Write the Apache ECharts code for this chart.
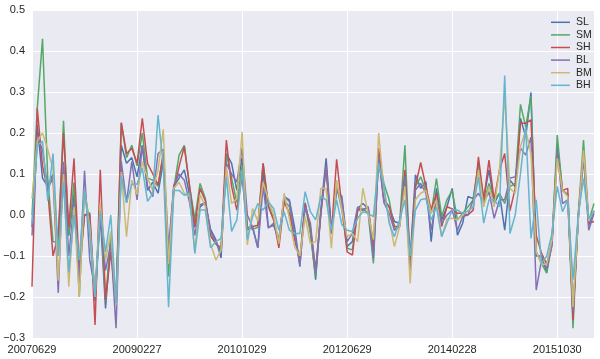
<!DOCTYPE html>
<html>
<head>
<meta charset="utf-8">
<script src="https://cdn.jsdelivr.net/npm/echarts@6/dist/echarts.min.js"></script>
<style>
html,body{margin:0;padding:0;background:#fff;}
#chart{width:600px;height:359px;}
</style>
</head>
<body>
<div id="chart"></div>
<script>
// Tick labels shown on the x axis (every 20th month)
const tickLabels = ['20070629','20090227','20101029','20120629','20140228','20151030'];
const tickStep = 20;

// Monthly categories 2007-06 .. 2016-05
const categories = [];
for (let k = 0; k < 108; k++) {
  const m = 5 + k;
  const y = 2007 + Math.floor(m / 12);
  const mm = (m % 12) + 1;
  categories.push(y + '-' + (mm < 10 ? '0' + mm : mm));
}

const seriesNames = ['SL','SM','SH','BL','BM','BH'];

const SL = [-0.03,0.22,0.09,0.07,0.10,-0.10,0.12,-0.05,0.05,-0.15,
0.00,0.005,-0.21,0.00,-0.228,-0.06,-0.22,0.17,0.126,0.14,
0.093,0.17,0.06,0.08,0.053,0.13,-0.10,0.07,0.09,0.11,
0.05,-0.03,0.02,0.03,-0.035,-0.06,-0.105,0.15,0.126,0.06,
0.14,-0.03,-0.03,-0.08,0.11,-0.03,-0.025,-0.06,0.045,0.037,
-0.03,-0.126,0.03,-0.037,-0.158,0.012,0.138,-0.037,0.06,0.045,
-0.077,-0.065,0.016,0.028,0.016,-0.093,0.142,0.037,0.02,-0.016,
-0.02,0.093,-0.11,0.098,0.065,0.081,-0.065,0.065,-0.012,0.02,
0.065,-0.049,-0.02,0.045,0.04,0.126,0.04,0.11,0.028,0.053,
-0.037,0.085,0.069,0.236,0.19,0.299,-0.10,-0.10,-0.14,-0.06,
0.17,0.06,0.05,-0.24,-0.01,0.15,-0.025,0.01];

const SM = [0.00,0.26,0.43,0.09,-0.065,-0.065,0.23,-0.05,0.08,-0.20,
0.06,-0.02,-0.20,0.02,-0.21,-0.05,-0.21,0.225,0.14,0.17,
0.12,0.20,0.09,0.085,0.07,0.15,-0.15,0.065,0.146,0.17,
0.07,-0.01,0.077,0.04,-0.05,-0.07,-0.09,0.15,0.09,0.03,
0.12,-0.03,-0.035,-0.03,0.126,0.025,-0.01,-0.065,0.037,0.02,
-0.053,-0.11,0.025,-0.045,-0.15,0.004,0.114,-0.045,0.069,0.012,
-0.081,-0.085,0.012,0.016,0.004,-0.118,0.15,0.077,0.037,-0.037,
-0.02,0.17,-0.126,0.069,0.093,0.06,0.004,0.089,-0.004,0.037,
0.06,-0.012,0.004,0.02,0.037,0.118,0.03,0.077,0.037,0.053,
0.028,0.069,0.077,0.27,0.215,0.29,-0.09,-0.118,-0.142,-0.07,
0.195,0.06,0.05,-0.276,0.0,0.183,-0.015,0.028];

const SH = [-0.175,0.26,0.12,0.06,-0.10,-0.05,0.20,-0.03,0.138,-0.135,
0.00,0.00,-0.268,0.11,-0.207,-0.09,-0.22,0.225,0.15,0.163,
0.126,0.236,0.126,0.10,0.073,0.15,-0.118,0.06,0.118,0.167,
0.07,-0.027,0.065,0.035,-0.05,-0.07,-0.08,0.183,0.07,0.012,
0.094,-0.037,-0.028,-0.025,0.126,0.02,-0.012,-0.08,0.032,0.004,
-0.06,-0.11,0.028,-0.03,-0.134,0.004,0.122,-0.045,0.136,0.02,
-0.09,-0.098,0.012,0.012,0.02,-0.077,0.163,0.037,0.02,-0.028,
-0.028,0.11,-0.11,0.069,0.128,0.069,0.012,0.053,-0.028,0.02,
0.015,0.004,0.004,0.00,0.012,0.142,0.037,0.134,0.037,0.11,
0.15,0.01,0.065,0.224,0.224,0.232,-0.05,-0.093,-0.12,-0.065,
0.142,0.06,0.065,-0.256,0.0,0.15,-0.02,-0.016];

const BL = [-0.05,0.185,0.16,0.065,0.09,-0.19,0.13,-0.10,0.03,-0.16,
0.108,-0.11,-0.18,0.00,-0.135,-0.07,-0.276,0.13,0.03,0.13,
0.037,0.17,0.07,0.045,0.15,0.16,-0.08,0.073,0.10,0.085,
0.03,-0.05,0.025,0.03,-0.04,-0.065,-0.09,0.126,0.10,0.08,
0.163,0.00,-0.03,-0.08,0.07,-0.032,-0.02,-0.065,0.045,0.033,
-0.045,-0.122,0.02,-0.02,-0.142,0.012,0.118,-0.045,0.06,0.037,
-0.065,-0.045,0.02,0.012,0.02,-0.106,0.142,0.03,0.004,-0.037,
-0.028,0.093,-0.142,0.061,0.077,0.053,-0.037,0.037,-0.02,0.0,
0.012,-0.037,-0.004,0.00,0.037,0.053,0.03,0.057,-0.008,0.037,
0.037,0.09,0.093,0.163,0.146,0.19,-0.183,-0.11,-0.13,-0.075,
0.158,0.028,0.037,-0.235,-0.01,0.14,-0.037,0.004];

const BM = [0.04,0.18,0.20,0.16,0.11,-0.16,0.10,-0.175,0.02,-0.20,
0.06,-0.03,-0.20,0.03,-0.11,-0.04,-0.22,0.105,-0.053,0.085,
0.05,0.13,0.09,0.06,0.11,0.209,-0.12,0.065,0.08,0.053,
0.045,-0.09,0.05,0.02,-0.07,-0.11,-0.085,0.118,0.028,0.04,
0.203,-0.073,0.016,-0.015,0.08,0.037,0.00,-0.07,0.053,-0.008,
-0.077,-0.10,-0.004,-0.07,-0.065,0.065,0.065,-0.081,0.085,0.012,
-0.053,-0.045,-0.065,0.065,0.004,-0.06,0.20,0.06,-0.012,-0.077,
-0.028,0.07,-0.167,0.037,0.053,0.06,0.004,0.037,-0.053,-0.01,
-0.008,-0.012,0.00,0.01,0.02,0.11,0.02,0.069,0.02,0.11,
0.29,0.065,0.053,0.167,0.207,0.15,-0.09,-0.12,-0.12,-0.06,
0.138,0.06,0.045,-0.224,-0.01,0.158,-0.015,0.012];

const BH = [-0.02,0.17,0.18,0.035,0.15,-0.10,0.08,-0.14,0.00,-0.11,
0.06,-0.05,-0.20,0.01,-0.09,0.00,-0.215,0.095,0.03,0.075,
0.075,0.115,0.033,0.053,0.244,0.12,-0.225,0.06,0.06,0.048,
0.053,-0.094,0.012,0.012,-0.08,-0.065,-0.057,0.093,-0.04,-0.012,
0.11,-0.06,-0.004,0.028,0.012,0.032,0.016,-0.037,0.008,-0.037,
-0.045,-0.045,0.057,0.008,-0.012,0.045,0.037,-0.037,0.037,-0.024,
-0.037,-0.04,-0.008,0.008,0.004,-0.004,0.126,0.07,-0.02,-0.053,
-0.012,0.037,-0.10,0.012,0.037,0.04,-0.012,0.02,-0.053,-0.02,
0.012,0.012,0.004,0.01,0.02,0.093,-0.02,0.037,0.037,0.02,
0.34,-0.045,0.00,0.101,0.215,-0.057,0.037,-0.118,-0.10,-0.045,
0.07,0.008,0.037,-0.158,0.0,0.089,-0.01,0.01];

const seriesData = [SL, SM, SH, BL, BM, BH];
const colors = ['#4C72B0','#55A868','#C44E52','#8172B2','#CCB974','#64B5CD'];

const chart = echarts.init(document.getElementById('chart'), null, {renderer: 'canvas'});
const FONT = '"Liberation Sans", Arial, sans-serif';

chart.setOption({
  animation: false,
  color: colors,
  grid: {
    left: 32, right: 6, top: 10, bottom: 21,
    show: true, backgroundColor: '#EAEAF2', borderWidth: 0
  },
  legend: {
    data: seriesNames.map(function (n) { return {name: n, icon: 'rect'}; }),
    orient: 'vertical',
    left: 551, top: 16,
    padding: 0,
    itemWidth: 19, itemHeight: 1.5, itemGap: 0,
    textStyle: {fontFamily: FONT, fontSize: 10.5, color: '#262626', lineHeight: 12.6, padding: [0, 0, 0, 1]},
    backgroundColor: 'transparent'
  },
  xAxis: {
    type: 'category',
    data: categories,
    boundaryGap: false,
    axisLine: {show: false},
    axisTick: {show: false},
    axisLabel: {
      interval: function (idx) { return idx % tickStep === 0; },
      formatter: function (val, idx) { return tickLabels[idx / tickStep] || ''; },
      fontFamily: FONT, fontSize: 11, color: '#262626', margin: 6
    },
    splitLine: {
      show: true,
      interval: function (idx) { return idx % tickStep === 0; },
      lineStyle: {color: '#ffffff', width: 1}
    }
  },
  yAxis: {
    type: 'value',
    min: -0.3, max: 0.5, interval: 0.1,
    axisLine: {show: false},
    axisTick: {show: false},
    axisLabel: {
      formatter: function (v) { return (Math.round(v * 10) / 10).toFixed(1).replace('-', '\u2212'); },
      fontFamily: FONT, fontSize: 11, color: '#262626', margin: 7
    },
    splitLine: {show: true, lineStyle: {color: '#ffffff', width: 1}}
  },
  series: seriesNames.map(function (name, k) {
    return {
      name: name,
      type: 'line',
      data: seriesData[k],
      symbol: 'none',
      lineStyle: {width: 1.5, color: colors[k]},
      itemStyle: {color: colors[k]},
      emphasis: {disabled: true}
    };
  })
});
</script>
</body>
</html>
